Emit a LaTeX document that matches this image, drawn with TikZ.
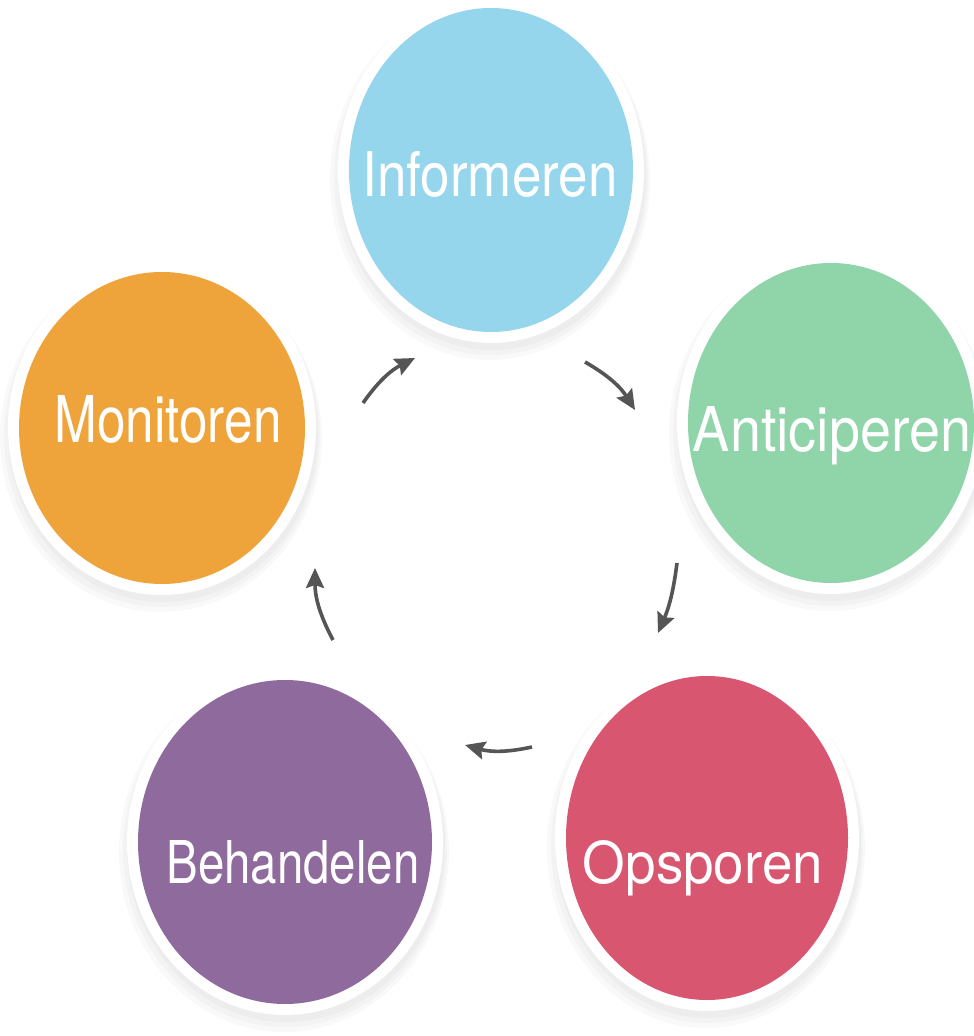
\documentclass[tikz,border=0pt]{standalone}
\usepackage{fontspec}
\setmainfont{TeX Gyre Heros}
\usepackage{graphicx}
\usetikzlibrary{arrows.meta,shapes.geometric}
\definecolor{cblue}{HTML}{96D6EC}
\definecolor{corange}{HTML}{EFA43B}
\definecolor{cgreen}{HTML}{90D4A9}
\definecolor{cred}{HTML}{D8566F}
\definecolor{cpurple}{HTML}{8F6B9D}
\definecolor{arrowgray}{HTML}{555555}
\tikzset{
  blob/.style={ellipse, inner sep=0pt, outer sep=0pt},
  shade1/.style={blob, fill=black, fill opacity=0.025, draw=none},
  ring/.style={blob, fill=white, draw=none},
  lbl/.style={inner sep=0pt, outer sep=0pt, anchor=base, text=white},
  flow/.style={draw=arrowgray, line width=3.6pt, -{Stealth[length=20pt,width=18pt,inset=3pt]}, bend left=14}
}
% \bubble{name}{x}{y}{rx}{ry}{colour}
\newcommand{\bubble}[6]{%
  \foreach \k in {1,2,3}{%
    \node[shade1, minimum width={2*#4+18+6*\k}, minimum height={2*#5+18+6*\k}] at (#2+2-\k,#3-4-2*\k) {};
  }
  \node[ring, minimum width={2*#4+22}, minimum height={2*#5+22}] at (#2,#3) {};
  \node[blob, fill=#6, minimum width={2*#4}, minimum height={2*#5}] (#1) at (#2,#3) {};
}
\begin{document}
\begin{tikzpicture}[x=1pt,y=1pt]
\fill[white] (0,0) rectangle (974,1036);
\clip (0,0) rectangle (974,1036);
\useasboundingbox (0,0) rectangle (974,1036);

\bubble{inf}{491}{866}{142}{162}{cblue}
\bubble{mon}{162}{608}{143}{156}{corange}
\bubble{ant}{831}{613}{143}{160}{cgreen}
\bubble{beh}{285}{194}{147}{162}{cpurple}
\bubble{ops}{707}{198}{141}{162}{cred}

\node[lbl] (tinf) at (490,839) {\resizebox{255pt}{45pt}{Informeren}};
\node[lbl] (tmon) at (168,593) {\resizebox{227pt}{47pt}{Monitoren}};
\node[lbl] (tant) at (832,584) {\resizebox{278pt}{45pt}{Anticiperen}};
\node[lbl] (tbeh) at (293,153) {\resizebox{253pt}{43pt}{Behandelen}};
\node[lbl] (tops) at (703,153) {\resizebox{240pt}{43pt}{Opsporen}};

\coordinate (a1s) at (363,633);
\coordinate (a1e) at (415,678);
\coordinate (a2s) at (585,674);
\coordinate (a2e) at (635,626);
\coordinate (a3s) at (677,473);
\coordinate (a3e) at (658,403);
\coordinate (a4s) at (532,289);
\coordinate (a4e) at (465,291);
\coordinate (a5s) at (333,396);
\coordinate (a5e) at (315,468);

\draw[flow] (a1s) to (a1e);
\draw[flow] (a2s) to (a2e);
\draw[flow, bend left=8] (a3s) to (a3e);
\draw[flow] (a4s) to (a4e);
\draw[flow] (a5s) to (a5e);
\end{tikzpicture}
\end{document}
